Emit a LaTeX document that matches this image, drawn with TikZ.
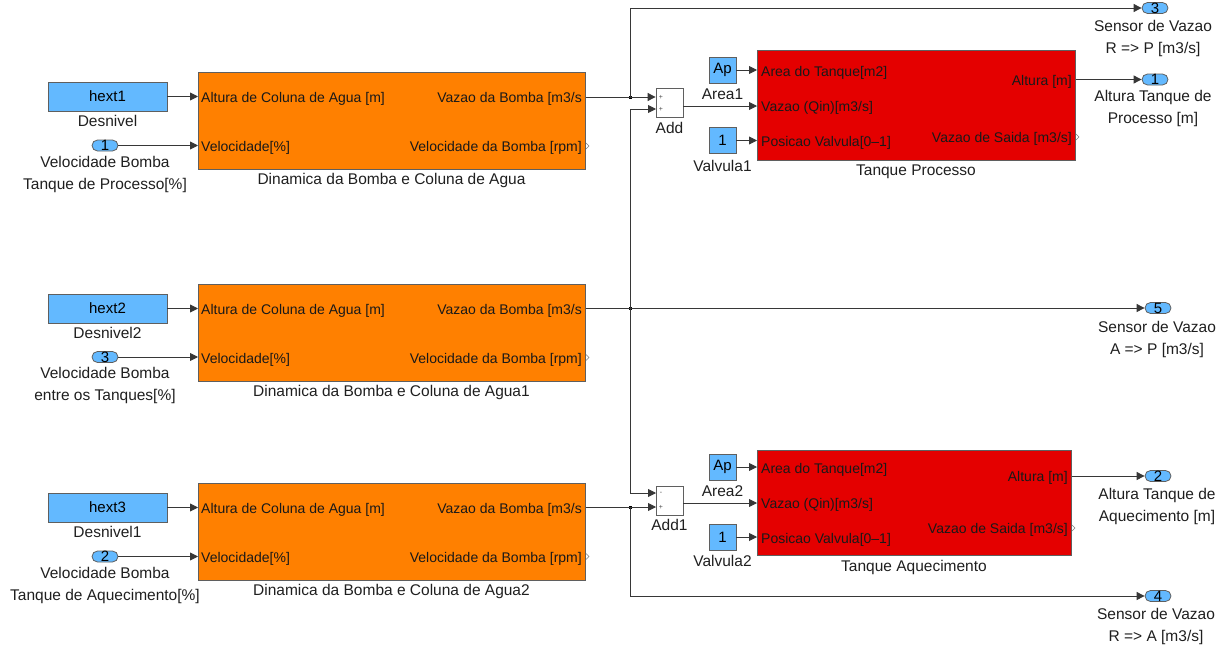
\documentclass[tikz,border=0pt]{standalone}
\usepackage{fontspec}
\setmainfont{Liberation Sans}
\usetikzlibrary{arrows.meta,shapes.misc}
\definecolor{sblue}{RGB}{99,185,255}
\definecolor{sorange}{RGB}{255,128,0}
\definecolor{sred}{RGB}{228,0,0}
\definecolor{wirec}{RGB}{55,55,55}
\definecolor{edgec}{RGB}{95,95,95}
\begin{document}
\begin{tikzpicture}[x=1pt,y=-1pt,
  lbl/.style={font=\fontsize{15.5}{22}\selectfont, align=center, inner sep=0pt, anchor=north, text=black!88},
  intxt/.style={font=\fontsize{14}{16}\selectfont, inner sep=0pt, text=black!90},
  cblk/.style={draw=edgec, line width=0.8pt, fill=sblue, inner sep=0pt, font=\fontsize{15}{15}\selectfont},
  oblk/.style={draw=edgec, line width=0.8pt, fill=sorange, inner sep=0pt, anchor=north west},
  rblk/.style={draw=edgec, line width=0.8pt, fill=sred, inner sep=0pt, anchor=north west},
  sumblk/.style={draw=edgec, line width=0.8pt, fill=white, inner sep=0pt, minimum width=27pt, minimum height=29pt},
  port/.style={rounded rectangle, draw=edgec, line width=0.8pt, fill=sblue, minimum width=26pt, minimum height=11pt, inner sep=0pt, font=\fontsize{15}{15}\selectfont},
  sig/.style={draw=wirec, line width=0.9pt, -{Triangle[length=8pt,width=8pt]}},
  jdot/.style={rectangle, fill=black, inner sep=0pt, minimum size=3pt},
  sgn/.style={font=\fontsize{7}{7}\selectfont, inner sep=0pt, text=black!70},
  nc/.style={draw=edgec!80, line width=0.6pt}
]
\useasboundingbox (0,0) rectangle (1232,645);

% ---------- pump block 1 ----------
\node[cblk, minimum width=119pt, minimum height=29pt] (hext1) at (107.5,96.5) {hext1};
\node[lbl] (lDes1) at (107.5,115.5) {Desnivel};
\node[port] (in1) at (105,145.5) {1};
\node[lbl] (lVel1) at (105,156.5) {Velocidade Bomba\\Tanque de Processo[\%]};
\node[oblk, minimum width=387pt, minimum height=97pt] (b1) at (198,72) {};
\node[lbl] (lb1) at (391.5,173.5) {Dinamica da Bomba e Coluna de Agua};
\node[intxt, anchor=base west] (b1t1) at (201,102.5) {Altura de Coluna de Agua [m]};
\node[intxt, anchor=base west] (b1t2) at (201,151.5) {Velocidade[\%]};
\node[intxt, anchor=base east] (b1t3) at (582,102.5) {Vazao da Bomba [m3/s};
\node[intxt, anchor=base east] (b1t4) at (582,151.5) {Velocidade da Bomba [rpm]};
\draw[sig] (hext1.east) -- (hext1.east -| b1.west);
\draw[sig] (in1.east) -- (in1.east -| b1.west);
\draw[nc] (586,143) -- (589,146) -- (586,149);

% ---------- pump block 2 ----------
\node[cblk, minimum width=119pt, minimum height=29pt] (hext2) at (107.5,308.5) {hext2};
\node[lbl] (lDes2) at (107.5,327.5) {Desnivel2};
\node[port] (in3) at (105,357) {3};
\node[lbl] (lVel2) at (105,367.5) {Velocidade Bomba\\entre os Tanques[\%]};
\node[oblk, minimum width=387pt, minimum height=97pt] (b2) at (198,284) {};
\node[lbl] (lb2) at (391.5,385.5) {Dinamica da Bomba e Coluna de Agua1};
\node[intxt, anchor=base west] (b2t1) at (201,314) {Altura de Coluna de Agua [m]};
\node[intxt, anchor=base west] (b2t2) at (201,363) {Velocidade[\%]};
\node[intxt, anchor=base east] (b2t3) at (582,314) {Vazao da Bomba [m3/s};
\node[intxt, anchor=base east] (b2t4) at (582,363) {Velocidade da Bomba [rpm]};
\draw[sig] (hext2.east) -- (hext2.east -| b2.west);
\draw[sig] (in3.east) -- (in3.east -| b2.west);
\draw[nc] (586,354.5) -- (589,357.5) -- (586,360.5);

% ---------- pump block 3 ----------
\node[cblk, minimum width=119pt, minimum height=29pt] (hext3) at (107.5,507.5) {hext3};
\node[lbl] (lDes3) at (107.5,526.5) {Desnivel1};
\node[port] (in2) at (105,556.5) {2};
\node[lbl] (lVel3) at (105,567.5) {Velocidade Bomba\\Tanque de Aquecimento[\%]};
\node[oblk, minimum width=387pt, minimum height=97pt] (b3) at (198,483) {};
\node[lbl] (lb3) at (391.5,584.5) {Dinamica da Bomba e Coluna de Agua2};
\node[intxt, anchor=base west] (b3t1) at (201,513) {Altura de Coluna de Agua [m]};
\node[intxt, anchor=base west] (b3t2) at (201,562) {Velocidade[\%]};
\node[intxt, anchor=base east] (b3t3) at (582,513) {Vazao da Bomba [m3/s};
\node[intxt, anchor=base east] (b3t4) at (582,562) {Velocidade da Bomba [rpm]};
\draw[sig] (hext3.east) -- (hext3.east -| b3.west);
\draw[sig] (in2.east) -- (in2.east -| b3.west);
\draw[nc] (586,553.5) -- (589,556.5) -- (586,559.5);

% ---------- tank Processo ----------
\node[sumblk] (add) at (669.5,103) {};
\node[sgn] (adds1) at (661,97) {+};
\node[sgn] (adds2) at (661,109) {+};
\node[lbl] (ladd) at (669.5,122) {Add};
\node[cblk, minimum width=27pt, minimum height=26pt] (ap1) at (722.5,70) {Ap};
\node[lbl] (lap1) at (722.5,89) {Area1};
\node[cblk, minimum width=27pt, minimum height=26pt] (v1) at (722.5,140.5) {1};
\node[lbl] (lv1) at (722.5,160) {Valvula1};
\node[rblk, minimum width=318pt, minimum height=110pt] (t1) at (757,50) {};
\node[lbl] (lt1) at (916,165) {Tanque Processo};
\node[intxt, anchor=base west] (t1t1) at (761,76.5) {Area do Tanque[m2]};
\node[intxt, anchor=base west] (t1t2) at (761,111.5) {Vazao (Qin)[m3/s]};
\node[intxt, anchor=base west] (t1t3) at (761,146.5) {Posicao Valvula[0--1]};
\node[intxt, anchor=base east] (t1t4) at (1072,85) {Altura [m]};
\node[intxt, anchor=base east] (t1t5) at (1072,142.5) {Vazao de Saida [m3/s]};
\draw[nc] (1076,134) -- (1079,137) -- (1076,140);
\coordinate (t1i2) at (757,106);
\draw[sig] (ap1.east) -- (ap1.east -| t1.west);
\draw[sig] (v1.east) -- (v1.east -| t1.west);
\draw[sig] (add.east |- t1i2) -- (t1i2);
\node[port] (p3) at (1155,8) {3};
\node[port] (p1) at (1155,79.5) {1};
\draw[sig] (t1.east |- p1) -- (p1.west);
\node[lbl] (lp3) at (1153,20.5) {Sensor de Vazao\\R => P [m3/s]};
\node[lbl] (lp1) at (1153,90) {Altura Tanque de\\Processo [m]};

% ---------- tank Aquecimento ----------
\node[sumblk] (add1) at (669.5,500.5) {};
\node[sgn] (add1s1) at (661,493) {-};
\node[sgn] (add1s2) at (661,507) {+};
\node[lbl] (ladd1) at (669.5,519) {Add1};
\node[cblk, minimum width=27pt, minimum height=26pt] (ap2) at (722.5,467) {Ap};
\node[lbl] (lap2) at (722.5,485) {Area2};
\node[cblk, minimum width=27pt, minimum height=26pt] (v2) at (722.5,537) {1};
\node[lbl] (lv2) at (722.5,555) {Valvula2};
\node[rblk, minimum width=314pt, minimum height=105pt] (t2) at (757,450) {};
\node[lbl] (lt2) at (914,560) {Tanque Aquecimento};
\node[intxt, anchor=base west] (t2t1) at (761,473) {Area do Tanque[m2]};
\node[intxt, anchor=base west] (t2t2) at (761,508.5) {Vazao (Qin)[m3/s]};
\node[intxt, anchor=base west] (t2t3) at (761,543.5) {Posicao Valvula[0--1]};
\node[intxt, anchor=base east] (t2t4) at (1068,481.5) {Altura [m]};
\node[intxt, anchor=base east] (t2t5) at (1068,533.5) {Vazao de Saida [m3/s]};
\draw[nc] (1072,525) -- (1075,528) -- (1072,531);
\coordinate (t2i2) at (757,503);
\draw[sig] (ap2.east) -- (ap2.east -| t2.west);
\draw[sig] (v2.east) -- (v2.east -| t2.west);
\draw[sig] (add1.east |- t2i2) -- (t2i2);
\node[port] (p2) at (1158,476) {2};
\draw[sig] (t2.east |- p2) -- (p2.west);
\node[lbl] (lp2) at (1157,488) {Altura Tanque de\\Aquecimento [m]};

% ---------- junctions and routing ----------
\node[jdot] (j1) at (630,97) {};
\node[jdot] (j2) at (630,308) {};
\node[jdot] (j3) at (630,507) {};
\coordinate (addi2) at (656,109);
\coordinate (add1i1) at (656,493);
\coordinate (add1i2) at (656,507);
\node[port] (p5) at (1158,308) {5};
\node[port] (p4) at (1158,596) {4};
\node[lbl] (lp5) at (1157,321) {Sensor de Vazao\\A => P [m3/s]};
\node[lbl] (lp4) at (1156,608) {Sensor de Vazao\\R => A [m3/s]};

\draw[sig] (b1.east |- j1) -- (add.west |- j1);
\draw[sig] (j1.center) |- (p3.west);
\draw[sig] (b2.east |- j2) -- (p5.west);
\draw[sig] (j2.center) |- (addi2);
\draw[sig] (j2.center) |- (add1i1);
\draw[sig] (b3.east |- j3) -- (add1i2);
\draw[sig] (j3.center) |- (p4.west);
\end{tikzpicture}
\end{document}
